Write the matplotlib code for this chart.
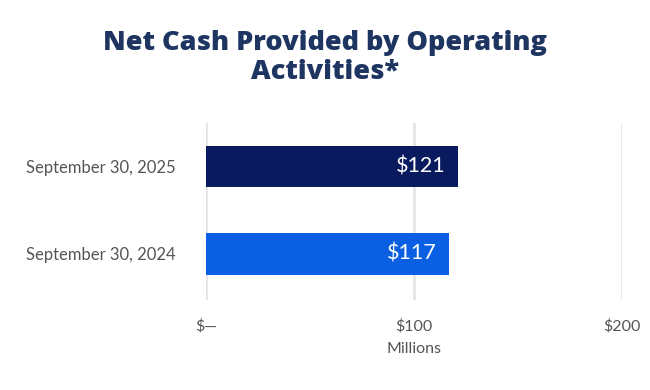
import matplotlib
matplotlib.use("Agg")
import matplotlib.pyplot as plt

categories = ["September 30, 2024", "September 30, 2025"]
values = [117, 121]
bar_labels = ["$117", "$121"]
colors = ["#0b5fe3", "#0a1a5e"]
xticks = [0, 100, 200]
xtick_labels = ["$\u2014", "$100", "$200"]
title = "Net Cash Provided by Operating\nActivities*"
xlabel = "Millions"

fig = plt.figure(figsize=(6.5, 3.9), dpi=100)
ax = fig.add_axes([0.317, 0.231, 0.640, 0.454])

bars = ax.barh(categories, values, height=0.48, color=colors, zorder=3)
for b, lab in zip(bars, bar_labels):
    ax.text(b.get_width() - 6, b.get_y() + b.get_height() / 2, lab,
            ha="right", va="center", color="white", fontsize=15.5, family="Lato", zorder=4)

ax.set_xlim(0, 200)
ax.set_ylim(-0.53, 1.5)
ax.set_xticks(xticks)
ax.set_xticklabels(xtick_labels)
ax.grid(axis="x", color="#e3e3e3", linewidth=1.8, zorder=0)
for s in ax.spines.values():
    s.set_visible(False)
ax.tick_params(axis="both", length=0, labelcolor="#555555")
ax.tick_params(axis="x", pad=14, labelsize=11.5)
ax.tick_params(axis="y", pad=22, labelsize=12)
for t in ax.get_xticklabels() + ax.get_yticklabels():
    t.set_family("Lato")
ax.set_xlabel(xlabel, fontsize=11.5, color="#555555", family="Lato", labelpad=6)

fig.text(0.5, 0.853, title, ha="center", va="center", fontsize=19.5, fontweight="heavy",
         color="#1e3461", family="Open Sans", linespacing=1.17)

fig.savefig("out.png", dpi=100)
